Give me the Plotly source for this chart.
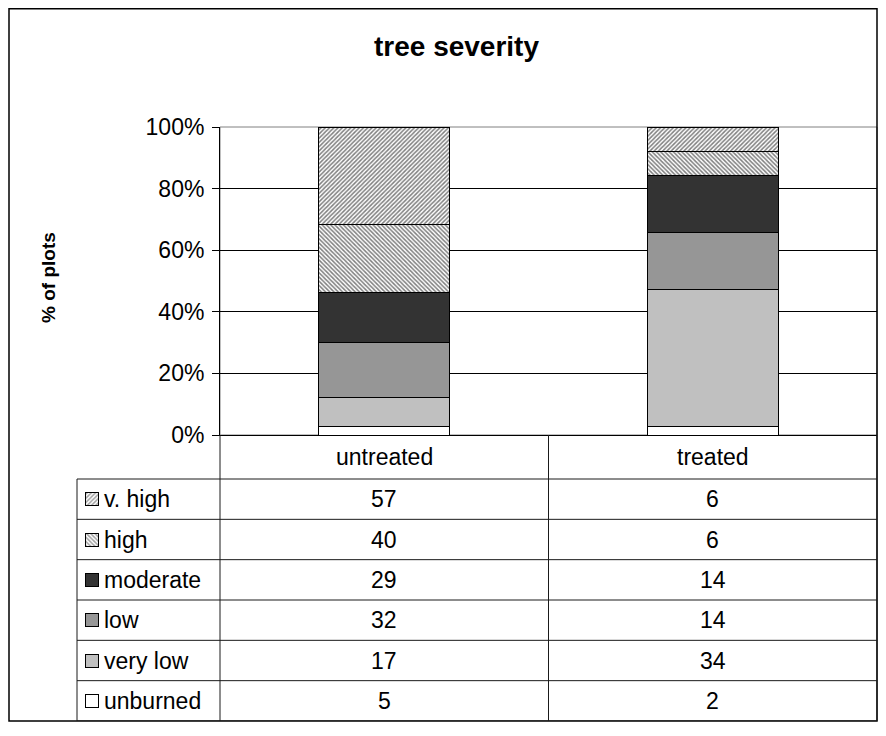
import plotly.graph_objects as go

# ---------------- data ----------------
categories = ["untreated", "treated"]
series = ["unburned", "very low", "low", "moderate", "high", "v. high"]
untreated = [5, 17, 32, 29, 40, 57]
treated = [2, 34, 14, 14, 6, 6]
y_tick_vals = [0, 20, 40, 60, 80, 100]
y_tick_text = ["0%", "20%", "40%", "60%", "80%", "100%"]
title_text = "tree severity"
y_title_text = "% of plots"

# ---------------- styles ----------------
fills = ["#FFFFFF", "#C0C0C0", "#969696", "#333333", "#FFFFFF", "#FFFFFF"]
hatches = ["", "", "", "", "\\", "/"]
FONT = "Liberation Sans, Arial, sans-serif"

# ---------------- layout geometry (page pixels) ----------------
OFF = 8                      # page body margin
W, H = 886 - 2 * OFF, 736 - 2 * OFF
RIGHT = 877                  # right edge of chart box
PLOT_L, PLOT_R, PLOT_T, PLOT_B = 220, RIGHT, 127, 435
TABLE_B = 721
KEY_L = 77
HEADER_H = 44
N_ROWS = len(series)
ROW_H = (TABLE_B - PLOT_B - HEADER_H) / N_ROWS
TABLE_TOP = N_ROWS + HEADER_H / ROW_H  # in row units
SW = 13       # swatch size px
SW_OFF = 8    # swatch offset from key column left
TEXT_OFF = 25 # key text offset from key column left


def px(x):
    return min(max((x - OFF) / W, 0.0), 1.0)


def py(y):
    return min(max(1 - (y - OFF) / H, 0.0), 1.0)


fig = go.Figure()

values = {c: v for c, v in zip(categories, [untreated, treated])}
totals = {c: sum(values[c]) for c in categories}
for i, name in enumerate(series):
    fig.add_trace(go.Bar(
        x=categories,
        y=[100.0 * values[c][i] / totals[c] for c in categories],
        name=name,
        marker=dict(
            color=fills[i],
            line=dict(color="black", width=1),
            pattern=dict(shape=hatches[i], fgcolor="black", bgcolor="white",
                         size=3, solidity=0.5),
        ),
        showlegend=False,
        hoverinfo="skip",
    ))

# legend key swatches in the data table
fig.add_trace(go.Bar(
    orientation="h",
    y=[i + 0.5 for i in range(N_ROWS)],
    x=[SW] * N_ROWS,
    base=[SW_OFF] * N_ROWS,
    width=SW / ROW_H,
    xaxis="x3", yaxis="y3",
    marker=dict(
        color=fills,
        line=dict(color="black", width=1),
        pattern=dict(shape=hatches, fgcolor="black", bgcolor="white",
                     size=3, solidity=0.5),
    ),
    showlegend=False,
    hoverinfo="skip",
))

LINE = dict(color="#1a1a1a", width=1)
shapes = []
# outer chart border
shapes.append(dict(type="rect", xref="paper", yref="paper",
                   x0=px(9), x1=px(RIGHT), y0=py(TABLE_B), y1=0.999,
                   line=dict(color="black", width=1.5)))
# plot area border (grey)
shapes.append(dict(type="rect", xref="x domain", yref="y domain",
                   x0=0, x1=1, y0=0, y1=1, layer="below",
                   line=dict(color="#808080", width=1)))
# table horizontal lines
for k in range(N_ROWS + 1):
    shapes.append(dict(type="line", xref="paper", yref="y2",
                       x0=px(KEY_L), x1=px(PLOT_R), y0=k, y1=k, line=LINE))
# table vertical lines
shapes.append(dict(type="line", xref="paper", yref="y2",
                   x0=px(KEY_L), x1=px(KEY_L), y0=0, y1=N_ROWS, line=LINE))
for xv in [px(PLOT_L), px(PLOT_R)]:
    shapes.append(dict(type="line", xref="paper", yref="y2",
                       x0=xv, x1=xv, y0=0, y1=TABLE_TOP, line=LINE))
shapes.append(dict(type="line", xref="x", yref="y2",
                   x0=0.5, x1=0.5, y0=0, y1=TABLE_TOP, line=LINE))

annotations = []
tfont = dict(family=FONT, size=23, color="black")
# header row
for c in categories:
    annotations.append(dict(text=c, x=c, xref="x", y=N_ROWS + (TABLE_TOP - N_ROWS) / 2,
                            yref="y2", showarrow=False, font=tfont,
                            xanchor="center", yanchor="middle"))
# cells and key labels
for i, name in enumerate(series):
    for c in categories:
        annotations.append(dict(text=str(values[c][i]), x=c, xref="x",
                                y=i + 0.5, yref="y2", showarrow=False,
                                font=tfont, xanchor="center", yanchor="middle"))
    annotations.append(dict(text=name, x=px(KEY_L + TEXT_OFF), xref="paper",
                            y=i + 0.5, yref="y2", showarrow=False, font=tfont,
                            xanchor="left", yanchor="middle"))
# y axis title
annotations.append(dict(text="<b>" + y_title_text + "</b>", textangle=-90,
                        x=px(48), y=py(278), xref="paper",
                        yref="paper", showarrow=False,
                        font=dict(family=FONT, size=19, color="black"),
                        xanchor="center", yanchor="middle"))
# chart title
annotations.append(dict(text="<b>" + title_text + "</b>",
                        x=px(457), y=py(46), xref="paper", yref="paper",
                        showarrow=False, xanchor="center", yanchor="middle",
                        font=dict(family=FONT, size=28, color="black")))

fig.update_layout(
    width=W, height=H,
    margin=dict(l=0, r=0, t=0, b=0, pad=0, autoexpand=False),
    paper_bgcolor="white", plot_bgcolor="white",
    barmode="stack", bargap=0.6,
    font=dict(family=FONT, size=23, color="black"),
    xaxis=dict(domain=[px(PLOT_L), px(PLOT_R)], type="category",
               range=[-0.5, 1.5], showticklabels=False, ticks="",
               showline=True, linecolor="black", linewidth=1,
               showgrid=False, zeroline=False, anchor="y", automargin=False),
    yaxis=dict(domain=[py(PLOT_B), py(PLOT_T)], range=[0, 100],
               tickvals=y_tick_vals, ticktext=y_tick_text,
               ticks="outside", ticklen=7, tickcolor="black",
               ticklabelstandoff=3,
               showline=True, linecolor="black", linewidth=1,
               showgrid=True, gridcolor="black", gridwidth=1,
               zeroline=False, anchor="x", automargin=False,
               tickfont=dict(family=FONT, size=23, color="black")),
    yaxis2=dict(domain=[py(TABLE_B), py(PLOT_B)], range=[0, TABLE_TOP],
                visible=False, anchor="x", fixedrange=True, automargin=False),
    xaxis3=dict(domain=[px(KEY_L), px(PLOT_L)], range=[0, PLOT_L - KEY_L],
                visible=False, anchor="y3", automargin=False),
    yaxis3=dict(domain=[py(TABLE_B), py(PLOT_B)], range=[0, TABLE_TOP],
                visible=False, anchor="x3", automargin=False),
    shapes=shapes,
    annotations=annotations,
)

fig.write_html("out.html")
